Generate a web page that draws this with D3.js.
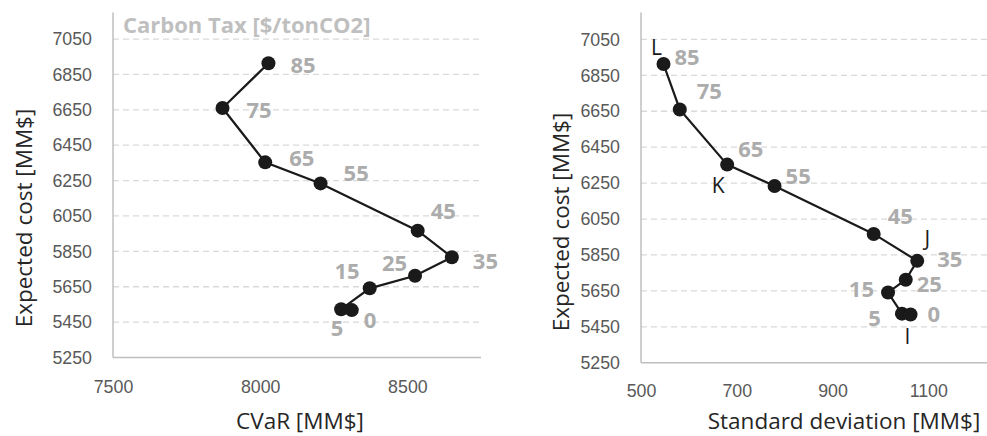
<!DOCTYPE html>
<html>
<head>
<meta charset="utf-8">
<script src="https://cdn.jsdelivr.net/npm/d3@7/dist/d3.min.js"></script>
<style>
  html, body { margin: 0; padding: 0; background: #fff; }
  svg { display: block; font-family: "Open Sans", "DejaVu Sans", sans-serif; }
</style>
</head>
<body>
<svg id="chart" width="987" height="436"></svg>
<script>
// Carbon tax scenarios [$/tonCO2] and their results
const carbonTax    = [85, 75, 65, 55, 45, 35, 25, 15, 5, 0];
const expectedCost = [6913, 6660, 6353, 6234, 5967, 5817, 5712, 5641, 5523, 5518];
const cvar         = [8028, 7872, 8017, 8205, 8535, 8651, 8526, 8372, 8275, 8311];
const stdDev       = [547, 581, 680, 779, 986, 1077, 1053, 1016, 1045, 1063];

// Axis ticks
const costTicks = [5250, 5450, 5650, 5850, 6050, 6250, 6450, 6650, 6850, 7050];
const cvarTicks = [7500, 8000, 8500];
const stdTicks  = [500, 700, 900, 1100];

// Point letters on the standard-deviation panel
const pointLetters = { 85: "L", 65: "K", 35: "J", 0: "I" };

// Label placement (anchor, dx, dy of text centre from the marker)
const cvarLabelPos = {
  85: ["start", 22, 2],   75: ["start", 24, 2],   65: ["start", 24, -4],
  55: ["start", 23, -10], 45: ["start", 13, -20], 35: ["start", 21, 4],
  25: ["end", -8, -13],   15: ["end", -10, -17],  5: ["middle", -4, 19],
  0: ["start", 12, 10]
};
const stdLabelPos = {
  85: ["start", 11, -7],  75: ["start", 17, -18], 65: ["start", 11, -16],
  55: ["start", 11, -10], 45: ["start", 14, -18], 35: ["start", 20, -2],
  25: ["start", 11, 4],   15: ["end", -14, -3],   5: ["end", -21, 4],
  0: ["start", 17, 0]
};
const letterPos = { 85: [-7, -17], 65: [-9, 21], 35: [10, -22], 0: [-3, 22] };

const svg = d3.select("#chart");

function drawPanel(opt) {
  const g = svg.append("g");
  const x = d3.scaleLinear().domain(opt.xDomain).range(opt.xRange);
  const y = d3.scaleLinear().domain([5250, 7200]).range(opt.yRange);
  const [x0, x1] = opt.xRange;
  const [yb, yt] = opt.yRange;

  // dashed horizontal gridlines
  g.append("g").selectAll("line")
    .data(costTicks.slice(1))
    .join("line")
    .attr("x1", x0).attr("x2", x1)
    .attr("y1", d => y(d)).attr("y2", d => y(d))
    .attr("stroke", "#d9d9d9").attr("stroke-width", 1.3)
    .attr("stroke-dasharray", "6,4");

  // axis lines
  g.append("line").attr("x1", x0).attr("x2", x0).attr("y1", yt).attr("y2", yb)
    .attr("stroke", "#bfbfbf").attr("stroke-width", 1.5);
  g.append("line").attr("x1", x0).attr("x2", x1).attr("y1", yb).attr("y2", yb)
    .attr("stroke", "#bfbfbf").attr("stroke-width", 1.5);

  // y axis
  const yAxis = g.append("g").attr("transform", `translate(${x0},0)`)
    .call(d3.axisLeft(y).tickValues(costTicks).tickSize(0).tickPadding(21).tickFormat(d3.format("d")));
  yAxis.select(".domain").remove();
  yAxis.selectAll("text").attr("fill", "#595959").style("font-size", "17.8px");

  // x axis
  const xAxis = g.append("g").attr("transform", `translate(0,${yb})`)
    .call(d3.axisBottom(x).tickValues(opt.xTicks).tickSize(0).tickPadding(opt.xPad).tickFormat(d3.format("d")));
  xAxis.select(".domain").remove();
  xAxis.selectAll("text").attr("fill", "#595959").style("font-size", "17.8px");

  // axis titles
  g.append("text").attr("x", opt.xTitleX).attr("y", 429)
    .attr("text-anchor", "middle").attr("fill", "#262626")
    .style("font-size", "22.5px").text(opt.xTitle);
  g.append("text")
    .attr("transform", `translate(${opt.yTitleX},${opt.yTitleY}) rotate(-90)`)
    .attr("text-anchor", "middle").attr("dominant-baseline", "central")
    .attr("fill", "#262626").style("font-size", "22.5px").text("Expected cost [MM$]");

  const pts = carbonTax.map((t, i) => ({ t, xv: opt.xValues[i], yv: expectedCost[i] }));

  // connecting line
  g.append("path").datum(pts)
    .attr("d", d3.line().x(d => x(d.xv)).y(d => y(d.yv)))
    .attr("fill", "none").attr("stroke", "#1a1a1a").attr("stroke-width", 2.2);

  // markers
  g.append("g").selectAll("circle").data(pts).join("circle")
    .attr("cx", d => x(d.xv)).attr("cy", d => y(d.yv)).attr("r", 7)
    .attr("fill", "#1a1a1a");

  // carbon tax labels
  const fs = 22;
  g.append("g").selectAll("text").data(pts).join("text")
    .attr("x", d => x(d.xv) + opt.labelPos[d.t][1])
    .attr("y", d => y(d.yv) + opt.labelPos[d.t][2] + 0.36 * fs)
    .attr("text-anchor", d => opt.labelPos[d.t][0])
    .attr("fill", "#acacac").style("font-weight", "bold").style("font-size", fs + "px")
    .text(d => d.t);

  if (opt.letters) {
    const lp = pts.filter(d => pointLetters[d.t]);
    g.append("g").selectAll("text").data(lp).join("text")
      .attr("x", d => x(d.xv) + letterPos[d.t][0])
      .attr("y", d => y(d.yv) + letterPos[d.t][1] + 0.36 * 21)
      .attr("text-anchor", "middle").attr("fill", "#1a1a1a")
      .style("font-size", "21px").text(d => pointLetters[d.t]);
  }
  return g;
}

const left = drawPanel({
  xDomain: [7500, 8750], xRange: [113, 481], yRange: [357.5, 12.5], xPad: 23,
  xTicks: cvarTicks, xValues: cvar, labelPos: cvarLabelPos,
  xTitle: "CVaR [MM$]", xTitleX: 300, yTitleX: 23, yTitleY: 218
});
left.append("text").attr("x", 123).attr("y", 33)
  .attr("fill", "#bfbfbf").style("font-weight", "bold").style("font-size", "22px")
  .text("Carbon Tax [$/tonCO2]");

drawPanel({
  xDomain: [500, 1300], xRange: [641, 1024], yRange: [362.7, 12.5], xPad: 21.5,
  xTicks: stdTicks, xValues: stdDev, labelPos: stdLabelPos, letters: true,
  xTitle: "Standard deviation [MM$]", xTitleX: 844, yTitleX: 560, yTitleY: 222
});
</script>
</body>
</html>
